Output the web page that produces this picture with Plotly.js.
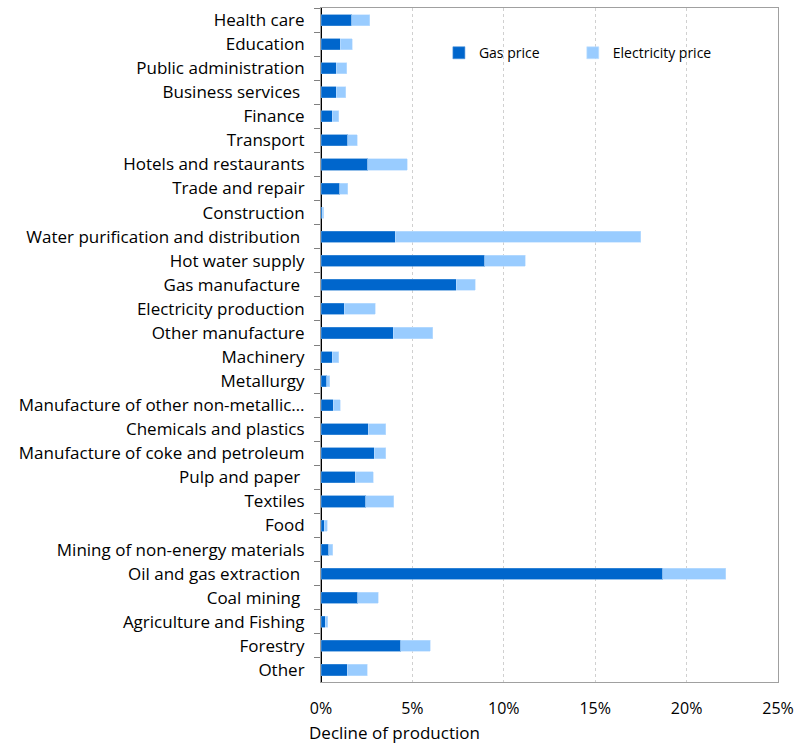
<!DOCTYPE html>
<html>
<head>
<meta charset="utf-8">
<script src="https://cdn.plot.ly/plotly-3.0.1.min.js"></script>
<style>html,body{margin:0;padding:0;background:#fff}#chart{width:797px;height:743px}</style>
</head>
<body>
<div id="chart"></div>
<script>
const categories = [
  "Health care", "Education", "Public administration", "Business services\u00a0",
  "Finance", "Transport", "Hotels and restaurants", "Trade and repair",
  "Construction", "Water purification and distribution\u00a0", "Hot water supply",
  "Gas manufacture\u00a0", "Electricity production", "Other manufacture",
  "Machinery", "Metallurgy", "Manufacture of other non-metallic\u2026",
  "Chemicals and plastics", "Manufacture of coke and petroleum", "Pulp and paper\u00a0",
  "Textiles", "Food", "Mining of non-energy materials", "Oil and gas extraction\u00a0",
  "Coal mining\u00a0", "Agriculture and Fishing", "Forestry", "Other"
];
const gasPrice = [
  1.69, 1.05, 0.84, 0.84, 0.62, 1.47, 2.57, 1.02, 0.07, 4.06, 8.96, 7.39, 1.27, 3.95,
  0.62, 0.31, 0.67, 2.58, 2.91, 1.86, 2.46, 0.18, 0.42, 18.70, 2.02, 0.23, 4.37, 1.44
];
const electricityPrice = [
  0.99, 0.66, 0.58, 0.51, 0.34, 0.51, 2.16, 0.43, 0.07, 13.43, 2.22, 1.04, 1.71, 2.15,
  0.36, 0.18, 0.37, 0.97, 0.64, 1.01, 1.53, 0.15, 0.21, 3.43, 1.11, 0.15, 1.60, 1.09
];
const xTickVals = [0, 5, 10, 15, 20, 25];
const xTickText = ["0%", "5%", "10%", "15%", "20%", "25%"];

const font = "'Open Sans', sans-serif";
const traces = [
  {type: "bar", orientation: "h", name: "Gas price", y: categories, x: gasPrice, legend: "legend",
   marker: {color: "#0066CC", line: {color: "#4d94db", width: 0.6}}, hoverinfo: "x+y"},
  {type: "bar", orientation: "h", name: "Electricity price", y: categories, x: electricityPrice, legend: "legend2",
   marker: {color: "#99CCFF", line: {color: "#c2e0ff", width: 0.6}}, hoverinfo: "x+y"}
];
const legendBase = {orientation: "h", xanchor: "left", yanchor: "middle", y: 0.933,
  font: {family: font, size: 14, color: "#000"}, itemwidth: 30, bgcolor: "rgba(0,0,0,0)"};
const layout = {
  width: 797, height: 743,
  margin: {l: 321, r: 19, t: 8, b: 61, autoexpand: false},
  barmode: "stack", bargap: 0.54,
  font: {family: font, size: 16, color: "#000"},
  paper_bgcolor: "#fff", plot_bgcolor: "#fff",
  showlegend: true,
  legend: Object.assign({}, legendBase, {x: 0.258}),
  legend2: Object.assign({}, legendBase, {x: 0.551}),
  xaxis: {range: [0, 25], tickvals: xTickVals, ticktext: xTickText,
    showgrid: true, gridcolor: "#d0d0d0", griddash: "dot", gridwidth: 1,
    zeroline: true, zerolinecolor: "#000", zerolinewidth: 1.5,
    showline: true, linecolor: "#a0a0a0", linewidth: 1, mirror: true,
    ticks: "", tickfont: {family: font, size: 16, color: "#000"}, ticklabelstandoff: 12,
    fixedrange: true},
  yaxis: {type: "category", autorange: "reversed", showline: true, linecolor: "#a0a0a0",
    mirror: true, ticks: "outside", tickson: "boundaries", ticklen: 6, tickcolor: "#808080",
    showgrid: false, tickfont: {family: font, size: 17, color: "#000"}, ticklabelstandoff: 12,
    fixedrange: true},
  annotations: [{text: "Decline of production", xref: "paper", yref: "paper", x: -0.031, y: -0.0742,
    xanchor: "left", yanchor: "middle", showarrow: false, font: {family: font, size: 17, color: "#000"}}]
};
Plotly.newPlot("chart", traces, layout, {displayModeBar: false, staticPlot: true});
</script>
</body>
</html>
